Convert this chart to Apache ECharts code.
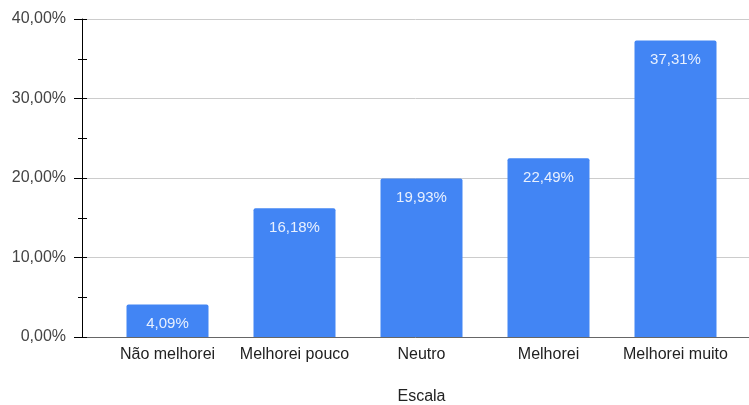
<!DOCTYPE html>
<html>
<head>
<meta charset="utf-8">
<script src="https://cdn.jsdelivr.net/npm/echarts@6/dist/echarts.min.js"></script>
<style>html,body{margin:0;padding:0;background:#fff}#c{width:749px;height:405px}</style>
</head>
<body>
<div id="c"></div>
<script>
const categories = ['Não melhorei', 'Melhorei pouco', 'Neutro', 'Melhorei', 'Melhorei muito'];
const values = [4.09, 16.18, 19.93, 22.49, 37.31];
const yTicks = [0, 10, 20, 30, 40];
const xName = 'Escala';

const fmt = v => v.toFixed(2).replace('.', ',') + '%';
const FONT = 'Arial, "Liberation Sans", sans-serif';
const chart = echarts.init(document.getElementById('c'), null, {renderer: 'canvas'});
chart.setOption({
  animation: false,
  grid: [
    {left: 104, right: 10, top: 19, bottom: 68, containLabel: false, outerBoundsMode: 'none'},
    {left: 82, right: 0, top: 19, bottom: 68, containLabel: false, outerBoundsMode: 'none'}
  ],
  xAxis: [
    {
      type: 'category', gridIndex: 0, data: categories,
      axisLine: {show: false}, axisTick: {show: false},
      axisLabel: {color: '#222', fontSize: 16, fontFamily: FONT, margin: 10, interval: 0},
      name: xName, nameLocation: 'middle', nameGap: 52,
      nameTextStyle: {color: '#222', fontSize: 16, fontFamily: FONT}
    },
    {
      type: 'value', gridIndex: 1, min: 0, max: 1,
      axisLine: {show: true, lineStyle: {color: '#666', width: 1}},
      axisTick: {show: false}, axisLabel: {show: false}, splitLine: {show: false}
    }
  ],
  yAxis: [
    {type: 'value', gridIndex: 0, min: yTicks[0], max: yTicks[yTicks.length - 1], show: false},
    {
      type: 'value', gridIndex: 1, position: 'left', min: yTicks[0], max: yTicks[yTicks.length - 1], interval: 10,
      axisLine: {show: true, lineStyle: {color: '#000', width: 1}},
      axisTick: {show: true, length: 8, lineStyle: {color: '#000'}},
      minorTick: {show: true, splitNumber: 2, length: 4, lineStyle: {color: '#000'}},
      axisLabel: {color: '#444', fontSize: 16, fontFamily: FONT, margin: 16, formatter: fmt},
      splitLine: {show: true, lineStyle: {color: '#ccc', width: 1}}
    },
    {
      type: 'value', gridIndex: 1, position: 'left', offset: 0, min: yTicks[0], max: yTicks[yTicks.length - 1], interval: 5,
      axisLine: {show: false},
      axisTick: {show: true, inside: true, length: 5, lineStyle: {color: '#000'}},
      axisLabel: {show: false}, splitLine: {show: false}
    }
  ],
  series: [{
    type: 'bar', xAxisIndex: 0, yAxisIndex: 0, data: values, barWidth: 82,
    itemStyle: {color: '#4285F4', borderRadius: [2, 2, 0, 0]},
    label: {
      show: true, position: 'insideTop', distance: 12, color: '#e8f0fe',
      fontSize: 15, fontFamily: FONT, formatter: p => fmt(p.value)
    }
  }]
});
</script>
</body>
</html>
